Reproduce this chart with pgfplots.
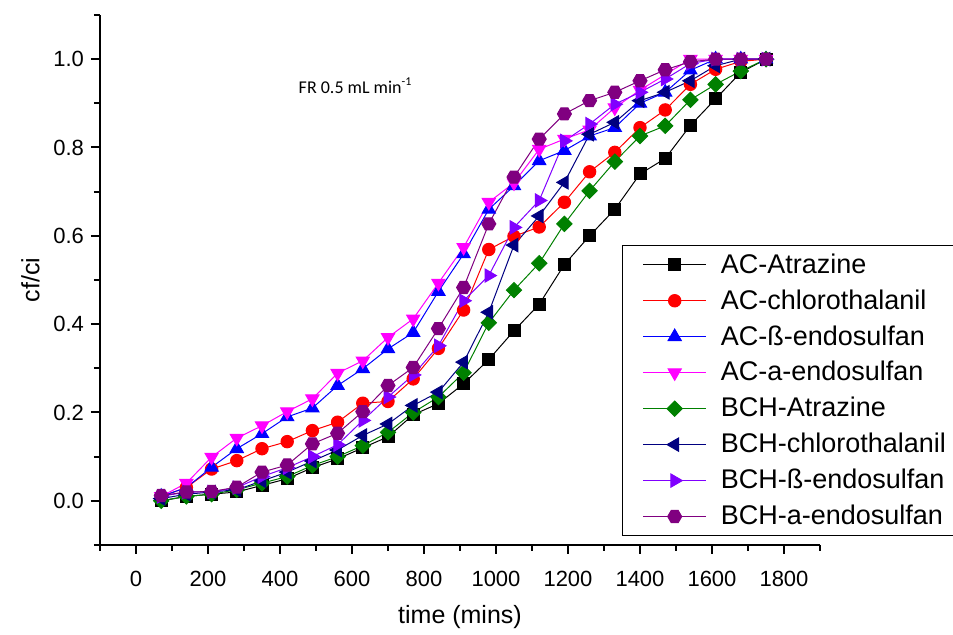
\documentclass[border=0pt]{standalone}
\usepackage{fontspec}
\setmainfont{Liberation Sans}
\newfontfamily\calibri{Carlito}
\usepackage{pgfplots}
\usepackage{pgfplotstable}
\pgfplotsset{compat=1.18}

\definecolor{cgreen}{RGB}{0,128,0}
\definecolor{cnavy}{RGB}{0,0,128}
\definecolor{cviolet}{RGB}{128,0,255}
\definecolor{cpurple}{RGB}{128,0,128}
\definecolor{cmagenta}{RGB}{255,0,255}
\definecolor{cred}{RGB}{255,0,0}
\definecolor{cblue}{RGB}{0,0,255}

% filled hexagon marker
\pgfdeclareplotmark{hexagon*}{%
  \pgfpathmoveto{\pgfpointpolar{0}{\pgfplotmarksize}}%
  \pgfpathlineto{\pgfpointpolar{60}{\pgfplotmarksize}}%
  \pgfpathlineto{\pgfpointpolar{120}{\pgfplotmarksize}}%
  \pgfpathlineto{\pgfpointpolar{180}{\pgfplotmarksize}}%
  \pgfpathlineto{\pgfpointpolar{240}{\pgfplotmarksize}}%
  \pgfpathlineto{\pgfpointpolar{300}{\pgfplotmarksize}}%
  \pgfpathclose
  \pgfusepathqfillstroke}

% cf/ci against time, 8 adsorbent/pesticide pairs
\pgfplotstableread{
t    s1    s2    s3    s4    s5    s6    s7    s8
70   0.000 0.010 0.010 0.010 0.000 0.005 0.010 0.012
140  0.010 0.030 0.030 0.040 0.010 0.015 0.020 0.020
210  0.015 0.072 0.076 0.099 0.015 0.020 0.020 0.021
280  0.020 0.091 0.118 0.142 0.025 0.025 0.030 0.031
350  0.035 0.118 0.152 0.170 0.040 0.045 0.055 0.065
420  0.050 0.134 0.190 0.202 0.055 0.065 0.075 0.081
490  0.075 0.159 0.210 0.231 0.080 0.090 0.100 0.129
560  0.095 0.178 0.261 0.289 0.100 0.115 0.127 0.153
630  0.120 0.221 0.299 0.317 0.125 0.148 0.182 0.202
700  0.145 0.225 0.344 0.370 0.155 0.174 0.235 0.261
770  0.195 0.276 0.381 0.412 0.200 0.216 0.285 0.302
840  0.220 0.345 0.474 0.493 0.235 0.246 0.351 0.390
910  0.265 0.432 0.559 0.574 0.290 0.314 0.453 0.483
980  0.320 0.569 0.660 0.676 0.403 0.427 0.510 0.627
1050 0.385 0.599 0.713 0.720 0.477 0.579 0.619 0.733
1120 0.445 0.620 0.770 0.796 0.538 0.645 0.680 0.819
1190 0.535 0.676 0.793 0.819 0.627 0.721 0.815 0.876
1260 0.600 0.745 0.826 0.840 0.702 0.830 0.853 0.906
1330 0.660 0.789 0.845 0.890 0.768 0.857 0.898 0.925
1400 0.740 0.845 0.900 0.930 0.826 0.906 0.925 0.951
1470 0.775 0.885 0.925 0.965 0.849 0.925 0.955 0.976
1540 0.850 0.943 0.975 1.000 0.908 0.951 0.990 0.994
1610 0.910 0.977 1.000 1.000 0.943 0.985 1.000 1.000
1680 0.970 0.995 1.000 1.000 0.973 1.000 1.000 1.000
1750 1.000 1.000 1.000 1.000 1.000 1.000 1.000 1.000
}\breakthrough

\begin{document}
\begin{tikzpicture}
\path[use as bounding box] (-50pt,-45pt) rectangle (426.5pt,272.5pt);
\begin{axis}[
  at={(0,0)}, anchor=south west,
  scale only axis, width=360pt, height=265pt,
  xmin=-100, xmax=1900, ymin=-0.1, ymax=1.1,
  axis x line*=bottom, axis y line*=left,
  axis line style={-, line width=1pt},
  xtick={0,200,...,1800}, minor xtick={-100,100,...,1900},
  ytick={0,0.2,0.4,0.6,0.8,1.0},
  minor ytick={-0.1,0.1,0.3,0.5,0.7,0.9,1.1},
  tick align=outside, major tick length=4.5pt, minor tick length=3pt,
  tick style={black, line width=1pt},
  tick label style={font=\fontsize{11}{13}\selectfont},
  /pgf/number format/assume math mode=true,
  xticklabel style={yshift=-5pt, /pgf/number format/.cd, fixed, 1000 sep={}},
  yticklabel style={/pgf/number format/.cd, fixed, fixed zerofill, precision=1},
  xlabel={time (mins)}, ylabel={cf/ci},
  label style={font=\fontsize{12.5}{15}\selectfont},
  xlabel style={yshift=-2.5pt},
  legend cell align=left,
  legend style={at={(axis description cs:0.725,0.566)}, anchor=north west,
    draw=black, line width=0.5pt, font=\fontsize{13.5}{16}\selectfont,
    inner xsep=10pt, inner ysep=2pt, row sep=2.7pt, column sep=5pt},
  legend image code/.code={\draw[mark repeat=2,mark phase=2,#1]
    plot coordinates {(0pt,0pt) (15.85pt,0pt) (31.7pt,0pt)};},
  every axis plot/.append style={line width=0.5pt},
]
\addplot[black, mark=square*, mark size=3pt] table[x=t, y=s1] {\breakthrough};
\addlegendentry{AC-Atrazine}
\addplot[cred, mark=*, mark size=3.1pt] table[x=t, y=s2] {\breakthrough};
\addlegendentry{AC-chlorothalanil}
\addplot[cblue, mark=triangle*, mark size=3.8pt] table[x=t, y=s3] {\breakthrough};
\addlegendentry{AC-ß-endosulfan}
\addplot[cmagenta, mark=triangle*, mark size=3.8pt, mark options={rotate=180}] table[x=t, y=s4] {\breakthrough};
\addlegendentry{AC-a-endosulfan}
\addplot[cgreen, mark=square*, mark size=2.7pt, mark options={rotate=45}] table[x=t, y=s5] {\breakthrough};
\addlegendentry{BCH-Atrazine}
\addplot[cnavy, mark=triangle*, mark size=3.8pt, mark options={rotate=90}] table[x=t, y=s6] {\breakthrough};
\addlegendentry{BCH-chlorothalanil}
\addplot[cviolet, mark=triangle*, mark size=3.8pt, mark options={rotate=-90}] table[x=t, y=s7] {\breakthrough};
\addlegendentry{BCH-ß-endosulfan}
\addplot[cpurple, mark=hexagon*, mark size=3.5pt] table[x=t, y=s8] {\breakthrough};
\addlegendentry{BCH-a-endosulfan}
\node[font=\calibri\fontsize{9}{11}\selectfont] at (axis cs:610,0.94) {FR 0.5 mL min\textsuperscript{-1}};
\end{axis}
\end{tikzpicture}
\end{document}
